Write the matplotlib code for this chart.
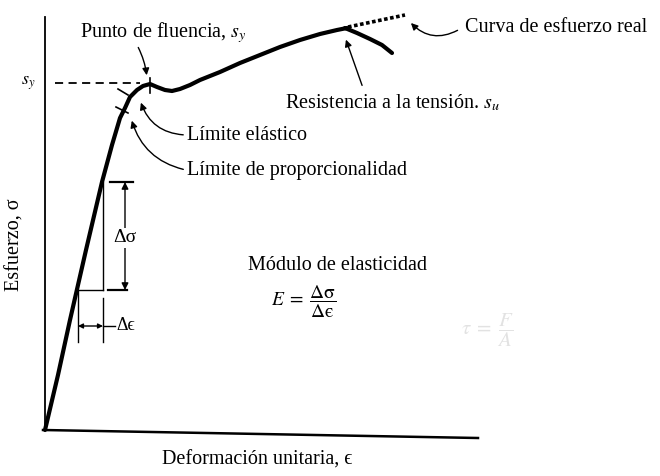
import matplotlib.pyplot as plt

plt.rcParams['font.family'] = ['Liberation Serif', 'DejaVu Serif']
plt.rcParams['mathtext.fontset'] = 'stix'

# engineering stress-strain curve (arbitrary units, origin at lower left)
strain = [0, 13, 25, 41, 57, 67, 75, 80, 85, 92, 98, 105, 112, 120, 127, 135,
          145, 155, 175, 195, 215, 235, 255, 275, 292, 302]
stress = [0, 55, 110, 180, 248, 285, 312, 322, 333, 340, 344, 346, 343, 340,
          339, 341, 345, 350, 358, 367, 375, 383, 390, 396, 400, 402]

# necking branch after ultimate strength
neck_strain = [300, 312, 325, 337, 347]
neck_stress = [402, 397, 391, 385, 377]

# true stress curve continuation
true_strain = [303, 360]
true_stress = [403, 415]

s_y = 347

fig = plt.figure(figsize=(6.6, 4.76), dpi=100)
ax = fig.add_axes([0, 0, 1, 1])
ax.set_xlim(-45, 615)
ax.set_ylim(-46, 430)
ax.axis('off')

# axes lines
ax.plot([0, 0], [0, 413], color='black', lw=1.3)
ax.plot([-2, 433], [0, -8], color='black', lw=1.8)

ax.plot(strain, stress, color='black', lw=3.0, solid_capstyle='round',
        solid_joinstyle='round')
ax.plot(neck_strain, neck_stress, color='black', lw=3.0, solid_capstyle='round')
ax.plot(true_strain, true_stress, color='black', lw=2.6,
        linestyle=(0, (1.0, 0.7)))

# yield level
ax.plot([10, 95], [s_y, s_y], color='black', lw=1.3, linestyle=(0, (4.5, 3)))
ax.text(-17, s_y, '$s_y$', fontsize=13, ha='center', va='center')

# marks on curve
ax.plot([105, 105], [337, 352], color='black', lw=1.2)
ax.plot([73, 83], [341, 335], color='black', lw=1.2)
ax.plot([71, 83], [323, 317], color='black', lw=1.2)

arrow = dict(arrowstyle='-|>', color='black', lw=1.0, mutation_scale=10)
fs = 14.5

ax.text(35, 397, 'Punto de fluencia, $s_y$', fontsize=fs, ha='left', va='center')
ax.annotate('', xy=(102, 352), xytext=(92, 385),
            arrowprops=dict(arrow, connectionstyle='arc3,rad=-0.1'))

ax.text(420, 403, 'Curva de esfuerzo real', fontsize=fs, ha='left', va='center')
ax.annotate('', xy=(364, 409), xytext=(415, 401),
            arrowprops=dict(arrow, connectionstyle='arc3,rad=-0.4'))

ax.text(240, 327, 'Resistencia a la tensión. $s_u$', fontsize=fs,
        ha='left', va='center')
ax.annotate('', xy=(300, 393), xytext=(318, 342), arrowprops=arrow)

ax.text(142, 295, 'Límite elástico', fontsize=fs, ha='left', va='center')
ax.annotate('', xy=(95, 330), xytext=(141, 295),
            arrowprops=dict(arrow, connectionstyle='arc3,rad=-0.35'))

ax.text(142, 260, 'Límite de proporcionalidad', fontsize=fs,
        ha='left', va='center')
ax.annotate('', xy=(86, 312), xytext=(141, 260),
            arrowprops=dict(arrow, connectionstyle='arc3,rad=-0.3'))

# slope triangle
ax.plot([33, 58], [140, 140], color='black', lw=1.0)
ax.plot([58, 58], [140, 248], color='black', lw=1.0)
ax.plot([33, 33], [140, 88], color='black', lw=1.0)
ax.plot([58, 58], [132, 88], color='black', lw=1.0)

# delta sigma dimension
ax.plot([65, 88], [248, 248], color='black', lw=1.6)
ax.plot([63, 82], [140, 140], color='black', lw=1.6)
ax.annotate('', xy=(80, 248), xytext=(80, 140),
            arrowprops=dict(arrowstyle='<|-|>', color='black', lw=1.0,
                            mutation_scale=10, shrinkA=0, shrinkB=0))
ax.text(80, 192, 'Δσ', fontsize=14, ha='center', va='center',
        bbox=dict(facecolor='white', edgecolor='none', pad=1))

# delta epsilon dimension
ax.annotate('', xy=(33, 104), xytext=(58, 104),
            arrowprops=dict(arrowstyle='<|-|>', color='black', lw=1.0,
                            mutation_scale=7, shrinkA=0, shrinkB=0))
ax.plot([58, 70], [104, 104], color='black', lw=1.0)
ax.text(71, 104, 'Δϵ', fontsize=13, ha='left', va='center')

ax.text(203, 165, 'Módulo de elasticidad', fontsize=fs, ha='left', va='center')
ax.text(226, 128, r'$E\;=\;\dfrac{\mathrm{\Delta\sigma}}{\mathrm{\Delta}\mathrm{ϵ}}$',
        fontsize=14, ha='left', va='center')

# faint show-through from the reverse page
ax.text(442, 100, r'$\tau\;=\;\dfrac{F}{A}$', fontsize=15, color='#e2e2e2',
        ha='center', va='center')

ax.text(212, -30, 'Deformación unitaria, ϵ', fontsize=fs,
        ha='center', va='center')
ax.text(-30, 185, 'Esfuerzo, σ', fontsize=fs, ha='center',
        va='center', rotation=90)

fig.savefig('out.png', dpi=100)
